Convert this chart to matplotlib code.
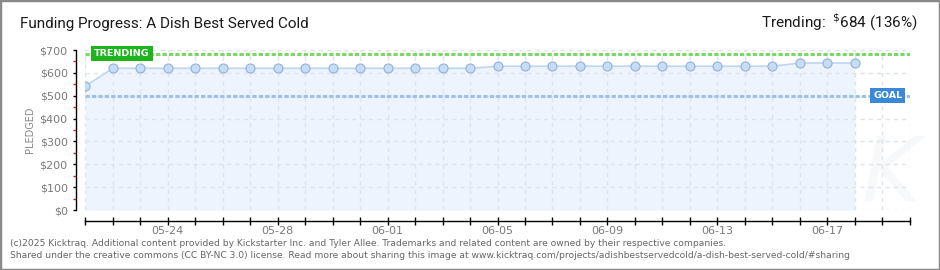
import matplotlib
matplotlib.use('Agg')
import matplotlib.pyplot as plt
from matplotlib.patches import Rectangle
from matplotlib.ticker import FixedLocator, FuncFormatter

plt.rcParams['font.family'] = ['DejaVu Sans']

# axis runs 05-21 .. 06-20, one tick per day
days = ['05-21', '05-22', '05-23', '05-24', '05-25', '05-26', '05-27', '05-28',
        '05-29', '05-30', '05-31', '06-01', '06-02', '06-03', '06-04', '06-05',
        '06-06', '06-07', '06-08', '06-09', '06-10', '06-11', '06-12', '06-13',
        '06-14', '06-15', '06-16', '06-17', '06-18', '06-19', '06-20']
pledged = [542, 620, 620, 620, 620, 620, 620, 620, 620, 620, 620, 620, 620, 620, 620,
           629, 629, 629, 629, 629, 629, 629, 629, 629, 629, 629,
           643, 643, 643]
goal = 500
trending = 684
trending_pct = 136

fig = plt.figure(figsize=(9.4, 2.7), dpi=100)
ax = fig.add_axes([85.3 / 940, 60 / 270, (909.7 - 85.3) / 940, 160 / 270])

x = list(range(len(pledged)))
ax.fill_between(x, pledged, 0, color='#edf4fd', lw=0, zorder=1)
ax.axhline(goal, color='#9cc2ec', lw=2.2, ls=(0, (1.4, 0.7)), zorder=2.5)
ax.axhline(trending, color='#7ad866', lw=2.2, ls=(0, (1.4, 0.7)), zorder=2.5)
ax.plot(x, pledged, color='#bcd7f2', lw=1.2, marker='o', ms=6.5,
        mfc='#c6ddf6', mec='#93b1d6', mew=0.8, zorder=4)

ax.text(0.33, trending, 'TRENDING', ha='left', va='center', color='white',
        fontsize=6.8, fontweight='bold', zorder=6,
        bbox=dict(boxstyle='square,pad=0.32', fc='#1db41d', ec='none'))
ax.text(29.2, goal, 'GOAL', ha='center', va='center', color='white',
        fontsize=6.8, fontweight='bold', zorder=6,
        bbox=dict(boxstyle='square,pad=0.32', fc='#3a88d8', ec='none'))

# faint watermark
ax.text(29.3, 150, 'K', ha='center', va='center', fontsize=64, style='italic',
        color='#f7f8fa', zorder=0.5)

ax.set_xlim(0, 30)
ax.set_ylim(0, 700)

ax.xaxis.set_major_locator(FixedLocator(range(len(days))))
ax.xaxis.set_major_formatter(FuncFormatter(
    lambda v, p: days[int(round(v))] if int(round(v)) % 4 == 3 else ''))
ax.set_yticks(range(0, 701, 100))
ax.set_yticklabels(['$%d' % v for v in range(0, 701, 100)])
ax.yaxis.set_minor_locator(FixedLocator(range(50, 700, 100)))

ax.grid(True, color='#dfe4ea', lw=1, ls=(0, (3, 3)))
ax.set_axisbelow('line')

for s in ['top', 'right']:
    ax.spines[s].set_visible(False)
ax.spines['left'].set_position(('outward', 6.7))
ax.spines['bottom'].set_position(('outward', 7.7))
ax.spines['left'].set_color('black')
ax.spines['bottom'].set_color('black')
ax.spines['left'].set_linewidth(1)
ax.spines['bottom'].set_linewidth(1)

ax.tick_params(axis='y', which='major', direction='out', length=2.5, width=1,
               color='black', labelcolor='#7a7a7a', labelsize=8, pad=3.5)
ax.tick_params(axis='y', which='minor', direction='out', length=2.5, width=1,
               color='#e02020')
ax.tick_params(axis='x', which='major', direction='inout', length=6, width=1,
               color='black', labelcolor='#7a7a7a', labelsize=8, pad=1)

fig.text(30 / 940, 1 - 130 / 270, 'PLEDGED', rotation=90, fontsize=7,
         color='#888888', ha='center', va='center')

fig.text(20 / 940, 1 - 24 / 270, 'Funding Progress: A Dish Best Served Cold',
         fontsize=11, color='#1a1a1a', ha='left', va='center', family='Roboto')
fig.text(918 / 940, 1 - 22 / 270,
         r'Trending:  $^{\$}$%d (%d%%)' % (trending, trending_pct),
         fontsize=11, color='#1a1a1a', ha='right', va='center', family='Roboto')

fig.text(10 / 940, 1 - 243 / 270,
         '(c)2025 Kicktraq. Additional content provided by Kickstarter Inc. and Tyler Allee. '
         'Trademarks and related content are owned by their respective companies.',
         fontsize=6.6, color='#666666', ha='left', va='center')
fig.text(10 / 940, 1 - 256 / 270,
         'Shared under the creative commons (CC BY-NC 3.0) license. Read more about sharing '
         'this image at www.kicktraq.com/projects/adishbestservedcold/a-dish-best-served-cold/#sharing',
         fontsize=6.6, color='#666666', ha='left', va='center')

fig.patches.append(Rectangle((0, 0), 1, 1, transform=fig.transFigure, fill=False,
                             ec='#8a8a8a', lw=2.5, zorder=10))

fig.savefig('out.png', dpi=100)
